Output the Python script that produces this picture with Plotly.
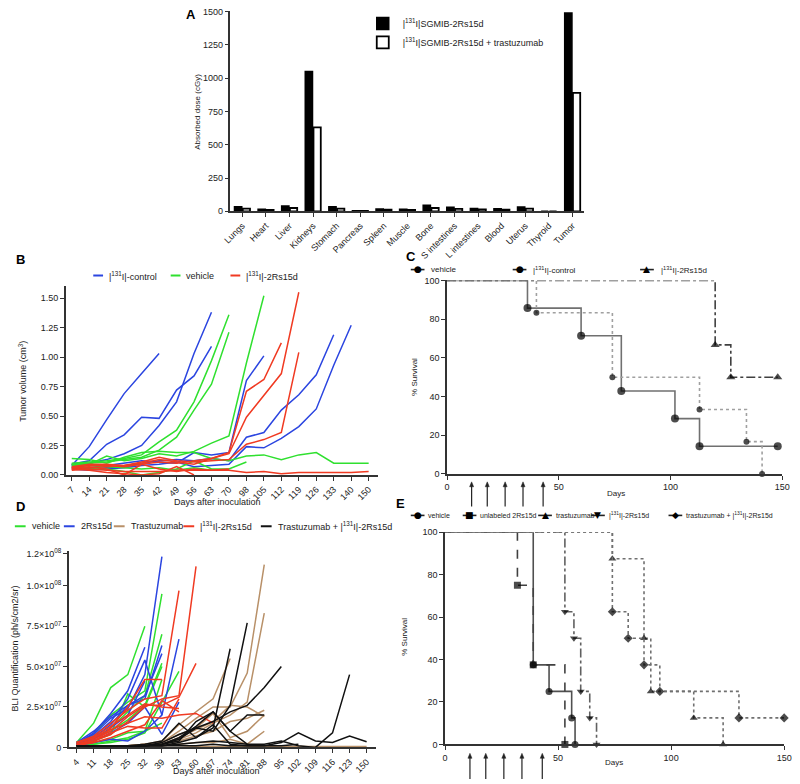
import plotly.graph_objects as go

FONT = "Liberation Sans, Arial, sans-serif"
SYMFONT = "DejaVu Sans, sans-serif"

# ---------------- Panel A data ----------------
organs = ["Lungs", "Heart", "Liver", "Kidneys", "Stomach", "Pancreas", "Spleen", "Muscle",
          "Bone", "S intestines", "L intestines", "Blood", "Uterus", "Thyroid", "Tumor"]
dose_sgmib = [35, 15, 40, 1050, 35, 5, 18, 15, 45, 30, 22, 20, 32, 0, 1490]
dose_sgmib_tras = [20, 10, 25, 630, 20, 4, 12, 10, 25, 18, 15, 12, 20, 0, 890]
a_names = ["|<sup>131</sup>I|SGMIB-2Rs15d", "|<sup>131</sup>I|SGMIB-2Rs15d + trastuzumab"]
a_yticks = [0, 250, 500, 750, 1000, 1250, 1500]

# ---------------- Panel B data ----------------
b_days = ["7", "14", "21", "28", "35", "42", "49", "56", "63", "70", "98", "105", "112",
          "119", "126", "133", "140", "150"]
b_control = [
    [0.08, 0.24, 0.47, 0.69, 0.86, 1.03],
    [0.08, 0.10, 0.13, 0.18, 0.25, 0.42, 0.62, 1.03, 1.38],
    [0.09, 0.12, 0.26, 0.34, 0.49, 0.48, 0.72, 0.84, 1.09],
    [0.07, 0.06, 0.08, 0.10, 0.12, 0.11, 0.10, 0.19, 0.17, 0.19, 0.80, 1.01],
    [0.06, 0.05, 0.06, 0.07, 0.10, 0.12, 0.13, 0.12, 0.14, 0.12, 0.32, 0.36, 0.55, 0.68, 0.85, 1.19],
    [0.05, 0.04, 0.05, 0.06, 0.08, 0.09, 0.11, 0.07, 0.08, 0.09, 0.24, 0.23, 0.31, 0.41, 0.56, 0.93, 1.27],
]
b_vehicle = [
    [0.10, 0.11, 0.12, 0.14, 0.17, 0.28, 0.38, 0.62, 0.97, 1.36],
    [0.09, 0.10, 0.11, 0.13, 0.15, 0.21, 0.32, 0.55, 0.77, 1.21],
    [0.14, 0.13, 0.10, 0.15, 0.19, 0.20, 0.19, 0.19, 0.14, 0.12, 0.16, 0.17, 0.13, 0.17, 0.19, 0.10, 0.10, 0.10],
    [0.08, 0.09, 0.16, 0.12, 0.14, 0.18, 0.16, 0.20, 0.27, 0.33, 0.95, 1.52],
    [0.07, 0.06, 0.05, 0.03, 0.00, 0.02, 0.05, 0.12, 0.05, 0.05, 0.11],
    [0.09, 0.08, 0.07, 0.06, 0.05, 0.06, 0.04, 0.06, 0.04, 0.04],
]
b_rs15d = [
    [0.06, 0.08, 0.08, 0.07, 0.09, 0.11, 0.10, 0.12, 0.14, 0.19, 0.71, 0.81, 1.12],
    [0.05, 0.06, 0.07, 0.08, 0.10, 0.13, 0.11, 0.09, 0.14, 0.18, 0.49, 0.67, 0.86, 1.55],
    [0.07, 0.09, 0.09, 0.08, 0.11, 0.15, 0.12, 0.11, 0.12, 0.13, 0.26, 0.30, 0.36, 1.04],
    [0.04, 0.05, 0.04, 0.03, 0.03, 0.03, 0.04, 0.04, 0.04, 0.04, 0.02, 0.03, 0.01, 0.02, 0.02, 0.02, 0.02, 0.03],
    [0.05, 0.04, 0.02, 0.01, 0.00, 0.01, 0.07, 0.00],
    [0.06, 0.07, 0.05, 0.00, 0.09, 0.05, 0.03, 0.05, 0.04, 0.05],
]
b_yticks = [0, 0.25, 0.5, 0.75, 1.0, 1.25, 1.5]

# ---------------- Panel C data ----------------
c_vehicle_days = [0, 36, 60, 78, 102, 113, 148]
c_vehicle_surv = [100, 85.7, 71.4, 42.9, 28.6, 14.3, 14.3]
c_control_days = [0, 40, 74, 113, 134, 141]
c_control_surv = [100, 83.3, 50, 33.3, 16.7, 0]
c_rs_days = [0, 120, 127, 148]
c_rs_surv = [100, 66.7, 50, 50]
dosing_days = [11, 18, 26, 34, 43]
surv_yticks = [0, 20, 40, 60, 80, 100]
surv_xticks = [0, 50, 100, 150]

# ---------------- Panel D data (units of 1e7) ----------------
d_days = ["4", "11", "18", "25", "32", "39", "53", "60", "67", "74", "81", "88", "95", "102",
          "109", "116", "123", "150"]
d_vehicle = [
    [0.3, 1.5, 3.7, 4.5, 7.5],
    [0.2, 0.8, 2.0, 2.8, 3.5, 9.5],
    [0.2, 0.5, 1.2, 2.2, 3.2, 7.0],
    [0.3, 0.6, 1.0, 1.7, 2.6, 5.2],
    [0.2, 0.3, 0.5, 0.9, 1.0, 1.5],
    [0.1, 0.2, 0.3, 0.5, 0.9, 2.8, 4.7],
    [0.2, 0.4, 0.8, 3.3, 2.5, 5.0],
    [0.1, 0.2, 0.4, 0.6, 1.0, 4.2],
]
d_2rs15d = [
    [0.3, 0.8, 1.8, 2.4, 4.5, 11.8],
    [0.2, 0.9, 2.1, 3.5, 6.2],
    [0.2, 0.6, 1.4, 2.6, 3.0, 6.3],
    [0.3, 1.0, 1.9, 2.6, 3.2, 5.8],
    [0.1, 0.3, 0.5, 0.4, 1.0, 2.0, 6.7],
    [0.2, 0.7, 1.6, 3.0, 5.4, 2.0],
    [0.2, 0.5, 1.2, 2.0, 4.1],
    [0.1, 0.4, 0.9, 1.5, 2.5, 0.8, 2.8],
]
d_trastuzumab = [
    [0.1, 0.1, 0.1, 0.1, 0.2, 0.3, 1.0, 1.8, 2.5, 2.5, 4.6, 11.3],
    [0.1, 0.1, 0.1, 0.1, 0.2, 0.4, 1.4, 2.2, 3.0, 5.5],
    [0.1, 0.1, 0.1, 0.1, 0.1, 0.2, 0.5, 0.9, 1.5, 2.0, 2.8, 8.3],
    [0.1, 0.1, 0.1, 0.1, 0.1, 0.2, 0.4, 0.7, 1.0, 1.6, 1.8, 2.3],
    [0.0, 0.1, 0.1, 0.1, 0.1, 0.1, 0.2, 0.3, 0.3, 0.5, 0.2, 1.0],
    [0.1, 0.1, 0.1, 0.1, 0.2, 0.3, 0.8, 1.2, 2.1, 0.6, 1.0, 2.0],
    [0.0, 0.0, 0.0, 0.0, 0.0, 0.0, 0.0, 0.05, 0.05, 0.05, 0.05, 0.05, 0.05, 0.05, 0.05, 0.05, 0.05, 0.05],
    [0.0, 0.1, 0.1, 0.1, 0.1, 0.2, 0.6, 1.1, 1.6, 2.6, 2.5, 1.9],
]
d_i131 = [
    [0.3, 0.7, 1.5, 2.3, 3.0, 3.2, 9.7],
    [0.2, 0.4, 0.8, 1.6, 2.5, 3.0, 3.2, 11.2],
    [0.2, 0.5, 1.0, 1.9, 2.6, 2.6, 3.1, 5.2],
    [0.3, 0.6, 1.1, 1.5, 1.9, 1.8, 2.0, 2.1, 1.5],
    [0.2, 0.3, 1.2, 2.5, 4.2, 4.2],
    [0.3, 0.6, 1.3, 2.0, 2.7, 2.5, 2.4],
    [0.2, 0.4, 0.9, 1.3, 1.2, 1.2, 3.0],
    [0.1, 0.3, 0.6, 1.0, 1.4, 2.9, 2.2],
]
d_combo = [
    [0.1, 0.1, 0.1, 0.1, 0.2, 0.4, 1.5, 0.6, 1.2, 6.1],
    [0.1, 0.1, 0.1, 0.1, 0.1, 0.3, 0.8, 1.2, 1.0, 2.6, 7.7],
    [0.1, 0.1, 0.1, 0.1, 0.1, 0.2, 0.5, 1.2, 1.6, 2.2, 2.6, 3.7, 5.0],
    [0.1, 0.1, 0.1, 0.1, 0.1, 0.2, 0.4, 1.6, 2.2, 1.0, 2.0, 2.0],
    [0.1, 0.1, 0.1, 0.1, 0.1, 0.1, 0.3, 0.6, 1.4, 0.2, 0.1, 0.1, 0.3, 0.9, 0.4, 0.3, 0.7, 0.35],
    [0.1, 0.1, 0.1, 0.1, 0.1, 0.1, 0.2, 0.3, 0.4, 0.3, 0.2, 0.2, 0.4, 0.1, 0.0, 0.9, 4.5],
    [0.1, 0.1, 0.1, 0.1, 0.1, 0.1, 0.1, 0.1, 0.2, 0.1, 0.1, 0.1, 0.1, 0.2],
    [0.1, 0.1, 0.1, 0.1, 0.1, 0.2, 0.6, 1.3, 2.2, 1.0, 0.2],
]
d_yticks_e7 = [0, 2.5, 5.0, 7.5, 10.0, 12.0]
d_yticklabels = ["0", "2.5×10<sup>07</sup>", "5.0×10<sup>07</sup>", "7.5×10<sup>07</sup>",
                 "1.0×10<sup>08</sup>", "1.2×10<sup>08</sup>"]

# ---------------- Panel E data ----------------
e_vehicle_days = [0, 39, 46, 56, 57.5]
e_vehicle_surv = [100, 37.5, 25, 12.5, 0]
e_unlab_days = [0, 32, 39, 53]
e_unlab_surv = [100, 75, 37.5, 0]
e_tras_days = [0, 74, 88, 91, 110, 123]
e_tras_surv = [100, 87.5, 50, 25, 12.5, 0]
e_i131_days = [0, 53, 57, 60, 64, 67]
e_i131_surv = [100, 62.5, 50, 25, 12.5, 0]
e_combo_days = [0, 74, 81, 88, 95, 130, 150]
e_combo_surv = [100, 62.5, 50, 37.5, 25, 12.5, 12.5]

# ---------------- colours ----------------
BLUE = "#2b45e0"
GREEN = "#2fe02f"
RED = "#f03a22"
TAN = "#b89068"
BLACK = "#111111"

W, H = 800, 784


def px_x(p):
    return p / W


def px_y(p):
    return 1 - p / H


fig = go.Figure()
shapes = []
annotations = []

# ---- A ----
fig.add_trace(go.Bar(x=organs, y=dose_sgmib, name=a_names[0],
                     marker=dict(color="black", line=dict(color="black", width=1.5)),
                     xaxis="x", yaxis="y"))
fig.add_trace(go.Bar(x=organs, y=dose_sgmib_tras, name=a_names[1],
                     marker=dict(color="white", line=dict(color="black", width=1.8)),
                     xaxis="x", yaxis="y"))

# ---- B ----
for grp, col in [(b_control, BLUE), (b_vehicle, GREEN), (b_rs15d, RED)]:
    for vals in grp:
        fig.add_trace(go.Scatter(x=b_days[:len(vals)], y=vals, mode="lines", line=dict(color=col, width=1.5),
                                 showlegend=False, hoverinfo="skip", xaxis="x2", yaxis="y2"))


# ---- survival helper ----
def surv(days, s, sym, dash, color, xa, ya, size):
    fig.add_trace(go.Scatter(x=days, y=s, mode="lines+markers", cliponaxis=False,
                             line=dict(shape="hv", color=color, width=1.6, dash=dash),
                             marker=dict(symbol=sym, color="black", line=dict(width=0),
                                         size=[0] + [size] * (len(days) - 1)),
                             showlegend=False, xaxis=xa, yaxis=ya))


# ---- C ----
surv(c_vehicle_days, c_vehicle_surv, "circle", "solid", "#707070", "x3", "y3", 8)
surv(c_control_days, c_control_surv, "circle", "dot", "#a0a0a0", "x3", "y3", 6)
surv(c_rs_days, c_rs_surv, "triangle-up", "dashdot", "#404040", "x3", "y3", 8)

# ---- D ----
for grp, col in [(d_vehicle, GREEN), (d_2rs15d, BLUE), (d_trastuzumab, TAN), (d_i131, RED), (d_combo, BLACK)]:
    for vals in grp:
        fig.add_trace(go.Scatter(x=d_days[:len(vals)], y=[v * 1e7 for v in vals], mode="lines",
                                 line=dict(color=col, width=1.5), showlegend=False, hoverinfo="skip",
                                 xaxis="x4", yaxis="y4"))

# ---- E ----
surv(e_vehicle_days, e_vehicle_surv, "circle", "solid", "#505050", "x5", "y5", 7)
surv(e_unlab_days, e_unlab_surv, "square", "dash", "#404040", "x5", "y5", 7)
surv(e_tras_days, e_tras_surv, "triangle-up", "dot", "#707070", "x5", "y5", 7)
surv(e_i131_days, e_i131_surv, "triangle-down", "dashdot", "#606060", "x5", "y5", 7)
surv(e_combo_days, e_combo_surv, "diamond", "dot", "#707070", "x5", "y5", 7)


# ---- manual legends ----
def text(t, x, y, size=9, xanchor="left", angle=0, bold=False, family=FONT, color="#222222"):
    annotations.append(dict(text=("<b>%s</b>" % t) if bold else t, x=px_x(x), y=px_y(y), xref="paper", yref="paper",
                            showarrow=False, xanchor=xanchor, yanchor="middle", textangle=angle,
                            font=dict(family=family, size=size, color=color)))


def seg(x0, x1, y, color, dash="solid", width=1.6):
    shapes.append(dict(type="line", xref="paper", yref="paper", x0=px_x(x0), x1=px_x(x1), y0=px_y(y), y1=px_y(y),
                       line=dict(color=color, width=width, dash=dash)))


b_legend = [(87, BLUE, "|<sup>131</sup>I|-control"), (166, GREEN, "vehicle"), (227, RED, "|<sup>131</sup>I|-2Rs15d")]
for x0, col, t in b_legend:
    seg(x0, x0 + 10, 274, col, width=2)
    text(t, x0 + 14, 274, size=9)

d_legend = [(7, GREEN, "vehicle"), (57, BLUE, "2Rs15d"), (108, TAN, "Trastuzumab"),
            (179, RED, "|<sup>131</sup>I|-2Rs15d"), (258, BLACK, "Trastuzumab + |<sup>131</sup>I|-2Rs15d")]
for x0, col, t in d_legend:
    seg(x0, x0 + 11, 528, col, width=2)
    text(t, x0 + 15, 528, size=9)

c_legend = [(418, "●", "vehicle"), (522, "●", "|<sup>131</sup>I|-control"), (652, "▲", "|<sup>131</sup>I|-2Rs15d")]
for cx, sym, t in c_legend:
    seg(cx - 7, cx + 7, 268, "#222222", width=1.6)
    text(sym, cx, 267.5, size=9, xanchor="center", family=SYMFONT, color="black")
    text(t, cx + 12, 268, size=8)

e_legend = [(418, "●", "vehicle"), (471, "■", "unlabeled 2Rs15d"), (548, "▲", "trastuzumab"),
            (602, "▼", "|<sup>131</sup>I|-2Rs15d"), (681, "◆", "trastuzumab + |<sup>131</sup>I|-2Rs15d")]
for cx, sym, t in e_legend:
    seg(cx - 7, cx + 7, 517, "#222222", width=1.6)
    text(sym, cx, 516.5, size=9, xanchor="center", family=SYMFONT, color="black")
    text(t, cx + 9, 517, size=7)

# ---- axis titles ----
text("Absorbed dose (cGy)", 193, 108, size=8, xanchor="center", angle=-90)
text("Tumor volume (cm<sup>3</sup>)", 15, 381, size=9, xanchor="center", angle=-90)
text("Days after inoculation", 214, 503, size=9, xanchor="center")
text("% Survival", 414, 377, size=8, xanchor="center", angle=-90)
text("Days", 620, 495, size=8, xanchor="center")
text("BLI Quantification (ph/s/cm2/sr)", 7, 652, size=9, xanchor="center", angle=-90)
text("Days after inoculation", 213, 776, size=9, xanchor="center")
text("% Survival", 405, 640, size=8, xanchor="center", angle=-90)
text("Days", 618, 767, size=8, xanchor="center")

# ---- panel labels ----
for lbl, xp, yp in [("A", 180, 10), ("B", 6, 258), ("C", 404, 255), ("D", 6, 508), ("E", 394, 505)]:
    text(lbl, xp, yp, size=13, bold=True, color="black")

# ---- dosing arrows (below C and E x axes) ----
for d in dosing_days:
    for xref, tip, tail in [("x3", 483, 508), ("x5", 758, 784)]:
        shapes.append(dict(type="line", xref=xref, yref="paper", x0=d, x1=d, y0=px_y(tip + 3), y1=px_y(tail),
                           line=dict(color="#222222", width=1.2)))
        shapes.append(dict(type="path", xref=xref, yref="paper",
                           path="M %f,%f L %f,%f L %f,%f Z" % (d - 0.9, px_y(tip + 5), d, px_y(tip), d + 0.9, px_y(tip + 5)),
                           fillcolor="#222222", line=dict(color="#222222", width=0.5)))

axis_common = dict(showline=True, linecolor="#333333", linewidth=1.5, ticks="outside", ticklen=4,
                   tickcolor="#333333", tickwidth=1.2, showgrid=False, zeroline=False,
                   tickfont=dict(family=FONT, size=9, color="#222222"))

fig.update_layout(
    width=W, height=H, margin=dict(l=0, r=0, t=0, b=0), paper_bgcolor="white", plot_bgcolor="white",
    font=dict(family=FONT, size=9, color="#222222"),
    barmode="group", bargap=0.3, bargroupgap=0.12,
    xaxis=dict(domain=[px_x(227), px_x(588)], anchor="y", tickangle=-45, **axis_common),
    yaxis=dict(domain=[px_y(209), px_y(6)], anchor="x", range=[0, 1505], tickvals=a_yticks, **axis_common),
    xaxis2=dict(domain=[px_x(59), px_x(378)], anchor="y2", type="category", range=[-0.34, 17.56], tickangle=-45,
                **axis_common),
    yaxis2=dict(domain=[px_y(476), px_y(285)], anchor="x2", range=[0, 1.6], tickvals=b_yticks, tickformat=".2f",
                **axis_common),
    xaxis3=dict(domain=[px_x(448), px_x(790)], anchor="y3", range=[0, 150], tickvals=surv_xticks, **axis_common),
    yaxis3=dict(domain=[px_y(475), px_y(279)], anchor="x3", range=[0, 100], tickvals=surv_yticks, **axis_common),
    xaxis4=dict(domain=[px_x(62), px_x(375)], anchor="y4", type="category", range=[-0.46, 17.52], tickangle=-45,
                **axis_common),
    yaxis4=dict(domain=[px_y(752), px_y(553)], anchor="x4", range=[0, 1.215e8],
                tickvals=[v * 1e7 for v in d_yticks_e7], ticktext=d_yticklabels, **axis_common),
    xaxis5=dict(domain=[px_x(446), px_x(792)], anchor="y5", range=[0, 150], tickvals=surv_xticks, **axis_common),
    yaxis5=dict(domain=[px_y(749), px_y(534)], anchor="x5", range=[0, 100], tickvals=surv_yticks, **axis_common),
    legend=dict(x=px_x(362), y=px_y(4), xanchor="left", yanchor="top", orientation="v",
                font=dict(family=FONT, size=9), bgcolor="rgba(0,0,0,0)", tracegroupgap=0, itemwidth=30),
    shapes=shapes,
    annotations=annotations,
)
fig.write_html("out.html", config={"displayModeBar": False},
               post_script="document.body.style.margin='0';document.body.style.overflow='hidden';")
